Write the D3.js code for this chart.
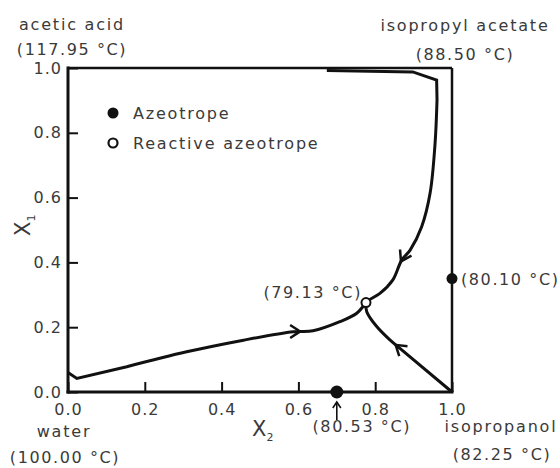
<!DOCTYPE html>
<html>
<head>
<meta charset="utf-8">
<script src="https://cdn.jsdelivr.net/npm/d3@7"></script>
<style>
  html, body { margin: 0; padding: 0; background: #fff; }
  svg { display: block; }
  text { font-family: "DejaVu Sans", sans-serif; fill: #3a3a3a; }
</style>
</head>
<body>
<svg id="chart" width="560" height="468"></svg>
<script>
// Tick values for both composition axes
const xTicks = [0.0, 0.2, 0.4, 0.6, 0.8, 1.0];
const yTicks = [0.0, 0.2, 0.4, 0.6, 0.8, 1.0];

// Pure components at the corners of the composition square
const componentNames = ["acetic acid", "isopropyl acetate", "water", "isopropanol"];
const boilingPoints = ["(117.95 °C)", "(88.50 °C)", "(100.00 °C)", "(82.25 °C)"];
const componentX2 = [0, 1, 0, 1];
const componentX1 = [1, 1, 0, 0];

// Residue curves (X2, X1), each running into the reactive azeotrope.
// The first `cornerCounts[i]` points are joined by straight segments,
// the rest by a smooth curve.
const curveFromAcetate = [
  [0.674, 0.992], [0.898, 0.988], [0.960, 0.963], [0.961, 0.901], [0.956, 0.769],
  [0.943, 0.614], [0.921, 0.510], [0.891, 0.438], [0.869, 0.407], [0.846, 0.346],
  [0.813, 0.305], [0.781, 0.282], [0.776, 0.276]
];
const curveFromWater = [
  [0.000, 0.060], [0.023, 0.042], [0.153, 0.078], [0.309, 0.124], [0.457, 0.160],
  [0.587, 0.186], [0.638, 0.189], [0.708, 0.217], [0.752, 0.243], [0.776, 0.276]
];
const curveFromPropanol = [
  [1.000, 0.000], [0.859, 0.140], [0.839, 0.160], [0.804, 0.202], [0.778, 0.248],
  [0.776, 0.276]
];
const residueCurves = [curveFromAcetate, curveFromWater, curveFromPropanol];
const cornerCounts = [4, 3, 2];

// Where a direction arrow sits on each residue curve (X2, X1)
const arrowPoints = [[0.865, 0.404], [0.604, 0.186], [0.852, 0.145]];

// Binary azeotropes on the edges
const azeotropeX2 = [0.70, 1.00];
const azeotropeX1 = [0.00, 0.35];
const azeotropeLabels = ["(80.53 °C)", "(80.10 °C)"];

// Reactive azeotrope
const reactiveX2 = 0.776;
const reactiveX1 = 0.276;
const reactiveLabel = "(79.13 °C)";

const legendLabels = ["Azeotrope", "Reactive azeotrope"];
const legendFilled = [true, false];

const svg = d3.select("#chart");
const x = d3.scaleLinear().domain([0, 1]).range([68, 452]);
const y = d3.scaleLinear().domain([0, 1]).range([392, 68]);
const ink = "#111";

// Axes with inward ticks
const gx = svg.append("g").attr("transform", `translate(0,${y(0)})`)
  .call(d3.axisBottom(x).tickValues(xTicks).tickFormat(d3.format(".1f"))
    .tickSizeInner(-10).tickSizeOuter(0).tickPadding(12));
const gy = svg.append("g").attr("transform", `translate(${x(0)},0)`)
  .call(d3.axisLeft(y).tickValues(yTicks).tickFormat(d3.format(".1f"))
    .tickSizeInner(-10).tickSizeOuter(0).tickPadding(6));
[gx, gy].forEach(g => {
  g.select(".domain").remove();
  g.selectAll(".tick line").attr("stroke", ink).attr("stroke-width", 2);
  g.selectAll(".tick text").attr("font-size", 16).style("letter-spacing", "1px")
    .attr("fill", "#3a3a3a").attr("font-family", "DejaVu Sans, sans-serif");
});

// Frame: heavy left/bottom axes, lighter top/right edges
svg.append("line").attr("x1", x(0)).attr("x2", x(1)).attr("y1", y(1)).attr("y2", y(1))
  .attr("stroke", ink).attr("stroke-width", 2.5);
svg.append("line").attr("x1", x(1)).attr("x2", x(1)).attr("y1", y(1)).attr("y2", y(0))
  .attr("stroke", ink).attr("stroke-width", 2.5);
svg.append("line").attr("x1", x(0)).attr("x2", x(0)).attr("y1", y(1) - 1.5).attr("y2", y(0) + 1.5)
  .attr("stroke", ink).attr("stroke-width", 3);
svg.append("line").attr("x1", x(0) - 1.5).attr("x2", x(1) + 1.5).attr("y1", y(0)).attr("y2", y(0))
  .attr("stroke", ink).attr("stroke-width", 3);

// Residue curves: straight corner segments followed by a smooth run
const straight = d3.line().x(d => x(d[0])).y(d => y(d[1]));
const smooth = d3.line().x(d => x(d[0])).y(d => y(d[1])).curve(d3.curveCatmullRom.alpha(0.5));
const paths = residueCurves.map((c, i) => {
  const k = cornerCounts[i];
  const d = straight(c.slice(0, k)) + smooth(c.slice(k - 1)).replace(/^M/, "L");
  return svg.append("path").attr("d", d).attr("fill", "none")
    .attr("stroke", ink).attr("stroke-width", 3).attr("stroke-linejoin", "miter")
    .attr("stroke-linecap", "butt").node();
});

// Direction arrows: open chevrons aligned with the local tangent
arrowPoints.forEach((p, i) => {
  const node = paths[i];
  const total = node.getTotalLength();
  const px = x(p[0]), py = y(p[1]);
  let best = 0, bestD = Infinity;
  for (let l = 0; l <= total; l += 0.5) {
    const q = node.getPointAtLength(l);
    const d = (q.x - px) ** 2 + (q.y - py) ** 2;
    if (d < bestD) { bestD = d; best = l; }
  }
  const a = node.getPointAtLength(Math.max(0, best - 2));
  const b = node.getPointAtLength(Math.min(total, best + 2));
  const len = Math.hypot(b.x - a.x, b.y - a.y);
  const ux = (b.x - a.x) / len, uy = (b.y - a.y) / len;
  const tip = node.getPointAtLength(best);
  const L = 10, Wd = 6.5;
  const d = `M${tip.x - L * ux - Wd * uy},${tip.y - L * uy + Wd * ux}L${tip.x},${tip.y}` +
            `L${tip.x - L * ux + Wd * uy},${tip.y - L * uy - Wd * ux}`;
  svg.append("path").attr("d", d).attr("fill", "none").attr("stroke", ink)
    .attr("stroke-width", 2.5).attr("stroke-linejoin", "miter");
});

// Binary azeotropes
azeotropeX2.forEach((v, i) => {
  svg.append("circle").attr("cx", x(v)).attr("cy", y(azeotropeX1[i]))
    .attr("r", i === 0 ? 6.5 : 5.5).attr("fill", ink);
});
// Label under the bottom-edge azeotrope with a pointer arrow
{
  const cx = x(azeotropeX2[0]), cy = y(azeotropeX1[0]);
  svg.append("line").attr("x1", cx).attr("x2", cx).attr("y1", cy + 28).attr("y2", cy + 11)
    .attr("stroke", ink).attr("stroke-width", 1.6);
  svg.append("path").attr("d", `M${cx - 4},${cy + 16}L${cx},${cy + 10}L${cx + 4},${cy + 16}`)
    .attr("fill", "none").attr("stroke", ink).attr("stroke-width", 1.6);
  svg.append("text").attr("x", cx + 25).attr("y", cy + 40).attr("text-anchor", "middle")
    .attr("font-size", 16).style("letter-spacing", "1.6px").text(azeotropeLabels[0]);
}
svg.append("text").attr("x", x(azeotropeX2[1]) + 9).attr("y", y(azeotropeX1[1]) + 6)
  .attr("font-size", 16).style("letter-spacing", "1.6px").text(azeotropeLabels[1]);

// Reactive azeotrope
svg.append("circle").attr("cx", x(reactiveX2)).attr("cy", y(reactiveX1)).attr("r", 4.5)
  .attr("fill", "#fff").attr("stroke", ink).attr("stroke-width", 2);
svg.append("text").attr("x", x(reactiveX2) - 4).attr("y", y(reactiveX1) - 5)
  .attr("text-anchor", "end").attr("font-size", 16).style("letter-spacing", "1.6px")
  .text(reactiveLabel);

// Component names and boiling points at the corners
const nameOffsets = [[4, -38], [13, -37], [-4, 45], [49, 40]];
const bpOffsets = [[4, -13], [13, -8], [-3, 71], [50, 68]];
componentNames.forEach((n, i) => {
  const cx = x(componentX2[i]), cy = y(componentX1[i]);
  svg.append("text").attr("x", cx + nameOffsets[i][0]).attr("y", cy + nameOffsets[i][1])
    .attr("text-anchor", "middle").attr("font-size", 16).style("letter-spacing", "1.8px").text(n);
  svg.append("text").attr("x", cx + bpOffsets[i][0]).attr("y", cy + bpOffsets[i][1])
    .attr("text-anchor", "middle").attr("font-size", 16).style("letter-spacing", "1.6px")
    .text(boilingPoints[i]);
});

// Legend
legendLabels.forEach((t, i) => {
  const ly = 113 + i * 30;
  svg.append("circle").attr("cx", 113).attr("cy", ly).attr("r", legendFilled[i] ? 5.5 : 4.5)
    .attr("fill", legendFilled[i] ? ink : "#fff").attr("stroke", ink)
    .attr("stroke-width", legendFilled[i] ? 0 : 2.2);
  svg.append("text").attr("x", 133).attr("y", ly + 6).attr("font-size", 16)
    .style("letter-spacing", "1.8px").text(t);
});

// Axis titles
const xt = svg.append("text").attr("x", 252).attr("y", 436).attr("font-size", 21);
xt.append("tspan").text("X");
xt.append("tspan").attr("font-size", 11).attr("dy", 5).text("2");
const yt = svg.append("text").attr("transform", "translate(30,236) rotate(-90)").attr("font-size", 21);
yt.append("tspan").text("X");
yt.append("tspan").attr("font-size", 11).attr("dy", 5).text("1");
</script>
</body>
</html>
